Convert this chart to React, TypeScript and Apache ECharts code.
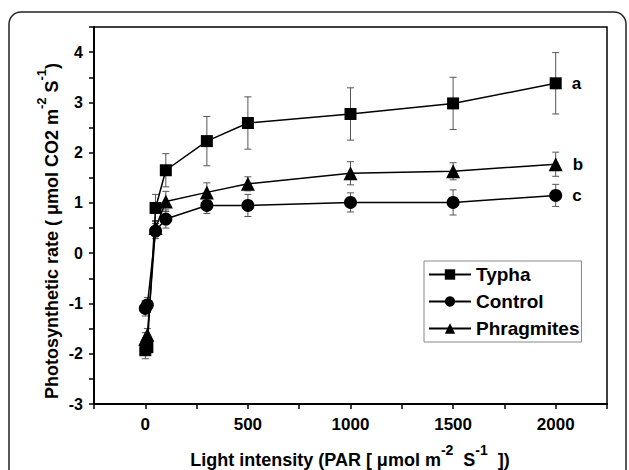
import React, { useEffect, useRef } from "react";
import * as echarts from "echarts";

const lightX = [0, 10, 50, 100, 300, 500, 1000, 1500, 2000];
const typha = [-1.93, -1.87, 0.9, 1.65, 2.23, 2.59, 2.77, 2.98, 3.38];
const typhaErr = [0.17, 0.15, 0.27, 0.33, 0.49, 0.52, 0.52, 0.52, 0.61];
const control = [-1.1, -1.03, 0.44, 0.68, 0.95, 0.95, 1.01, 1.01, 1.15];
const controlErr = [0.15, 0.15, 0.15, 0.18, 0.16, 0.22, 0.19, 0.25, 0.22];
const phragmites = [-1.7, -1.62, 0.5, 1.03, 1.21, 1.38, 1.59, 1.63, 1.77];
const phragmitesErr = [0.12, 0.12, 0.15, 0.2, 0.19, 0.14, 0.23, 0.17, 0.24];
const seriesNames = ["Typha", "Control", "Phragmites"];
const endLetters = ["a", "c", "b"];
const xTickLabels = [0, 500, 1000, 1500, 2000];

const FONT = "'Liberation Sans', Arial, Helvetica, sans-serif";

export default function App() {
  const ref = useRef<HTMLDivElement>(null);
  useEffect(() => {
    if (!ref.current) return;
    const chart = echarts.init(ref.current, undefined, { renderer: "svg" });

    const values = [typha, control, phragmites];
    const errs = [typhaErr, controlErr, phragmitesErr];
    const symbols = ["rect", "circle", "triangle"];
    const sizes = [12, 13, 14];

    const lineSeries = seriesNames.map((name, si) => ({
      type: "line",
      name,
      z: 5,
      symbol: symbols[si],
      symbolSize: sizes[si],
      itemStyle: { color: "#000" },
      lineStyle: { color: "#000", width: 1.5 },
      data: lightX.map((x, i) => {
        const v = [x, values[si][i]];
        if (i === lightX.length - 1) {
          return {
            value: v,
            label: {
              show: true,
              formatter: endLetters[si],
              position: "right",
              distance: 10,
              fontWeight: "bold",
              fontSize: 17,
              fontFamily: FONT,
              color: "#000",
            },
          };
        }
        return v;
      }),
    }));

    const errSeries = seriesNames.map((name, si) => ({
      type: "custom",
      name: name + "_err",
      z: 2,
      silent: true,
      encode: { x: 0, y: 1 },
      data: lightX.map((x, i) => [x, values[si][i], errs[si][i]]),
      renderItem: (params: any, api: any) => {
        const x = api.value(0);
        const y = api.value(1);
        const e = api.value(2);
        const top = api.coord([x, y + e]);
        const bot = api.coord([x, y - e]);
        const w = 3.5;
        const st = { stroke: "#555", lineWidth: 1 };
        return {
          type: "group",
          children: [
            { type: "line", shape: { x1: top[0], y1: top[1], x2: bot[0], y2: bot[1] }, style: st },
            { type: "line", shape: { x1: top[0] - w, y1: top[1], x2: top[0] + w, y2: top[1] }, style: st },
            { type: "line", shape: { x1: bot[0] - w, y1: bot[1], x2: bot[0] + w, y2: bot[1] }, style: st },
          ],
        };
      },
    }));

    const makeRich = (base: number, sup: number) => ({
      b: { font: "bold " + base + "px " + FONT, lineHeight: 26, verticalAlign: "bottom", fill: "#000" },
      s: { font: "bold " + sup + "px " + FONT, verticalAlign: "top", fill: "#000" },
    });

    chart.setOption({
      animation: false,
      backgroundColor: "#fff",
      grid: {
        left: 94,
        top: 27,
        right: 22,
        bottom: 66,
        show: true,
        borderColor: "#000",
        borderWidth: 1.5,
        backgroundColor: "transparent",
      },
      legend: {
        orient: "vertical",
        left: 424,
        top: 261,
        data: seriesNames,
        itemWidth: 42,
        itemHeight: 13,
        itemGap: 8,
        padding: [4, 2, 4, 4],
        borderColor: "#888",
        borderWidth: 1,
        backgroundColor: "#fff",
        textStyle: { fontSize: 19, fontWeight: "bold", fontFamily: FONT, color: "#000" },
      },
      xAxis: {
        type: "value",
        min: -250,
        max: 2250,
        interval: 250,
        splitLine: { show: false },
        axisLine: { onZero: false, lineStyle: { color: "#000", width: 2 } },
        axisTick: { inside: false, length: 5, lineStyle: { color: "#000", width: 1.5 } },
        axisLabel: {
          margin: 12,
          fontSize: 17,
          fontWeight: "bold",
          fontFamily: FONT,
          color: "#000",
          formatter: (v: number) => (xTickLabels.indexOf(v) >= 0 ? String(v) : ""),
        },
      },
      yAxis: {
        type: "value",
        min: -3,
        max: 4.5,
        interval: 0.5,
        splitLine: { show: false },
        axisLine: { show: true, onZero: false, lineStyle: { color: "#000", width: 2 } },
        axisTick: { show: true, inside: false, length: 5, lineStyle: { color: "#000", width: 1.5 } },
        axisLabel: {
          margin: 11,
          fontSize: 16,
          fontWeight: "bold",
          fontFamily: FONT,
          color: "#000",
          formatter: (v: number) => (Number.isInteger(v) && v <= 4 ? String(v) : ""),
        },
      },
      graphic: [
        {
          type: "rect",
          silent: true,
          shape: { x: 9, y: 12, width: 617, height: 520, r: 12 },
          style: { fill: "none", stroke: "#222", lineWidth: 1.5 },
        },
        {
          type: "text",
          x: 350,
          y: 456,
          style: {
            text: "{b|Light intensity (PAR [ μmol m}{s|-2}{b|  S}{s|-1}{b|  ])}",
            rich: makeRich(18, 14),
            align: "center",
            verticalAlign: "middle",
            textAlign: "center",
            textVerticalAlign: "middle",
          },
        },
        {
          type: "text",
          x: 48,
          y: 231,
          rotation: Math.PI / 2,
          style: {
            text: "{b|Photosynthetic rate ( μmol CO2 m}{s|-2}{b| S}{s|-1}{b|)}",
            rich: makeRich(18, 13),
            align: "center",
            verticalAlign: "middle",
            textAlign: "center",
            textVerticalAlign: "middle",
          },
        },
      ],
      series: [...errSeries, ...lineSeries],
    });

    return () => chart.dispose();
  }, []);

  return (
    <div
      ref={ref}
      style={{ position: "fixed", left: 0, top: 0, width: 629, height: 470 }}
    />
  );
}
